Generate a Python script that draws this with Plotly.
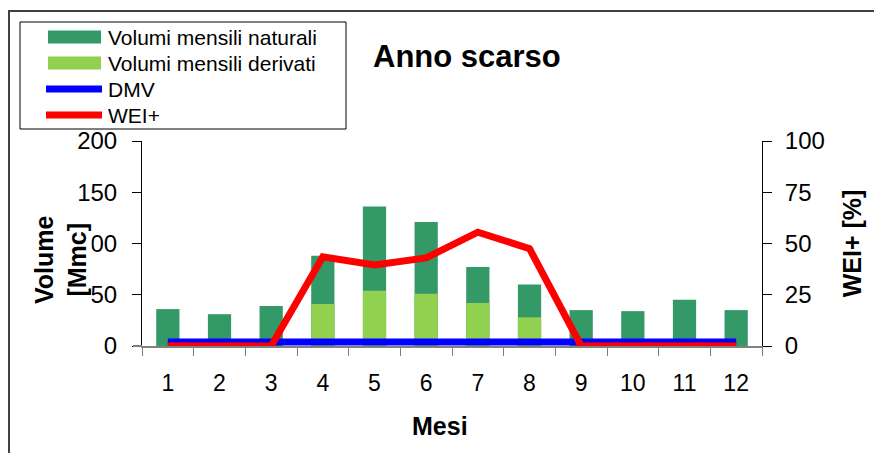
import plotly.graph_objects as go

# Monthly data
mesi = ["1", "2", "3", "4", "5", "6", "7", "8", "9", "10", "11", "12"]
volumi_naturali = [36, 31, 39, 88, 136, 121, 77, 60, 35, 34, 45, 35]
volumi_derivati = [0, 0, 0, 41, 54, 51, 42, 28, 0, 0, 0, 0]
dmv = [4, 4, 4, 4, 4, 4, 4, 4, 4, 4, 4, 4]
wei_plus = [0, 0, 0, 43.5, 39.5, 43, 55.5, 47.5, 0, 0, 0, 0]

FONT = "Liberation Sans, Arial, sans-serif"
C_NAT, C_DER, C_DMV, C_WEI = "#339966", "#92D050", "#0000FF", "#FF0000"

fig = go.Figure()

fig.add_trace(go.Bar(x=mesi, y=volumi_naturali, name="Volumi mensili naturali",
                     marker=dict(color=C_NAT, line=dict(width=0)), width=0.45))
fig.add_trace(go.Bar(x=mesi, y=volumi_derivati, name="Volumi mensili derivati",
                     marker=dict(color=C_DER, line=dict(width=0)), width=0.45))
fig.add_trace(go.Scatter(x=mesi, y=dmv, name="DMV", mode="lines",
                         line=dict(color=C_DMV, width=7)))
fig.add_trace(go.Scatter(x=mesi, y=wei_plus, name="WEI+", mode="lines", yaxis="y2",
                         line=dict(color=C_WEI, width=7)))

# page has an 8px body margin, so the figure is 874x445 placed at (8, 8)
OFF = 8
W, H = 882 - OFF, 453 - OFF
# plot area in window pixels
L, R, T, B = 142, 762, 141, 346


def px(x):
    return (x - L) / (R - L)


def py(y):
    return (B - y) / (B - T)


fig.update_layout(
    width=W,
    height=H,
    margin=dict(l=L - OFF, r=W - (R - OFF), t=T - OFF, b=H - (B - OFF)),
    paper_bgcolor="white",
    plot_bgcolor="white",
    barmode="overlay",
    showlegend=False,
    font=dict(family=FONT, color="black"),
    xaxis=dict(
        type="category", range=[-0.5, 11.5],
        showline=True, linecolor="#808080", linewidth=2,
        ticks="outside", tickson="boundaries", ticklen=8, tickcolor="#808080",
        tickfont=dict(size=23), ticklabelstandoff=15,
        showgrid=False, zeroline=False,
    ),
    yaxis=dict(
        range=[0, 200], dtick=50,
        showline=True, linecolor="black", linewidth=1,
        ticks="outside", ticklen=9, tickcolor="black",
        tickfont=dict(size=24), ticklabelstandoff=10,
        showgrid=False, zeroline=False,
    ),
    yaxis2=dict(
        range=[0, 100], dtick=25, overlaying="y", side="right",
        showline=True, linecolor="black", linewidth=1,
        ticks="outside", ticklen=9, tickcolor="black",
        tickfont=dict(size=24), ticklabelstandoff=8,
        title=dict(text="<b>WEI+ [%]</b>", font=dict(size=25), standoff=19),
        showgrid=False, zeroline=False,
    ),
)

# chart title
fig.add_annotation(text="<b>Anno scarso</b>", x=px(467), y=py(56),
                   xref="paper", yref="paper", xanchor="center", yanchor="middle",
                   showarrow=False, font=dict(size=31, family=FONT))

# x axis title
fig.add_annotation(text="<b>Mesi</b>", x=px(440), y=py(426),
                   xref="paper", yref="paper", xanchor="center", yanchor="middle",
                   showarrow=False, font=dict(size=25, family=FONT))

# left axis title (white box hides the overlapped tick digit, as in the original)
fig.add_annotation(text="<b>Volume<br>[Mmc]</b>", textangle=-90,
                   x=px(60), y=py(260), xref="paper", yref="paper",
                   xanchor="center", yanchor="middle",
                   showarrow=False, font=dict(size=25, family=FONT),
                   bgcolor="white", borderpad=0)

# x axis line runs a little past the left axis, like the original
fig.add_shape(type="line", xref="paper", yref="paper",
              x0=px(133), x1=px(142), y0=py(346), y1=py(346),
              line=dict(color="#808080", width=2))

# chart area frame
fig.add_shape(type="rect", xref="paper", yref="paper",
              x0=px(9), x1=px(900), y0=py(470), y1=py(11),
              line=dict(color="#404040", width=2), layer="below")

# legend box drawn by hand to match the original spacing
fig.add_shape(type="rect", xref="paper", yref="paper",
              x0=px(20), x1=px(346), y0=py(129), y1=py(22),
              line=dict(color="black", width=1), fillcolor="white")
legend_rows = [
    ("Volumi mensili naturali", C_NAT, "bar", 37),
    ("Volumi mensili derivati", C_DER, "bar", 63),
    ("DMV", C_DMV, "line", 89),
    ("WEI+", C_WEI, "line", 115),
]
for label, color, kind, yc in legend_rows:
    if kind == "bar":
        fig.add_shape(type="rect", xref="paper", yref="paper",
                      x0=px(48), x1=px(101), y0=py(yc + 6.5), y1=py(yc - 6.5),
                      line=dict(width=0), fillcolor=color)
    else:
        fig.add_shape(type="line", xref="paper", yref="paper",
                      x0=px(46), x1=px(102), y0=py(yc), y1=py(yc),
                      line=dict(color=color, width=7))
    fig.add_annotation(text=label, x=px(106), y=py(yc), xref="paper", yref="paper",
                       xanchor="left", yanchor="middle", showarrow=False,
                       font=dict(size=21, family=FONT))

fig.write_html("out.html")
